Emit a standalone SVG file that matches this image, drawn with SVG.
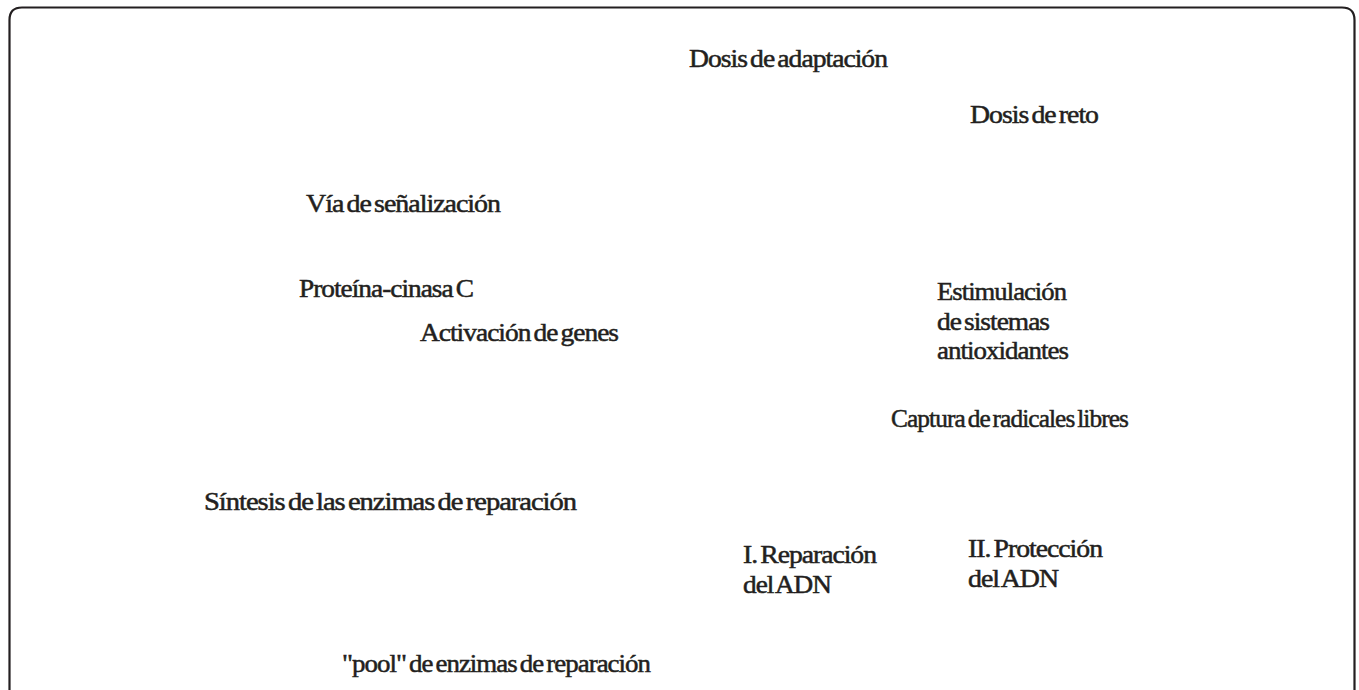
<svg xmlns="http://www.w3.org/2000/svg" width="1359" height="690" viewBox="0 0 1359 690">
<style>
.frame{fill:none;stroke:#231f20;stroke-width:2.2}
text{font-family:"Liberation Serif","Times New Roman",serif;font-size:25px;fill:#231f20;stroke:#231f20;stroke-width:0.5px;letter-spacing:-0.9px;word-spacing:-2.5px}
</style>
<rect width="1359" height="690" fill="#ffffff"/>
<path class="frame" d="M9.5,700 V20 Q9.5,7.5 22,7.5 H1342 Q1354.5,7.5 1354.5,20 V700"/>
<g id="connectors"></g>
<g id="n1"><text x="689" y="67" textLength="198" lengthAdjust="spacingAndGlyphs">Dosis de adaptación</text></g>
<g id="n2"><text x="970" y="123" textLength="128" lengthAdjust="spacingAndGlyphs">Dosis de reto</text></g>
<g id="n3"><text x="306" y="212" textLength="194" lengthAdjust="spacingAndGlyphs">Vía de señalización</text></g>
<g id="n4"><text x="299" y="297" textLength="174" lengthAdjust="spacingAndGlyphs">Proteína-cinasa C</text></g>
<g id="n5"><text x="420" y="341" textLength="198" lengthAdjust="spacingAndGlyphs">Activación de genes</text></g>
<g id="n6"><text x="937" y="300" textLength="129" lengthAdjust="spacingAndGlyphs">Estimulación</text><text x="937" y="330" textLength="112" lengthAdjust="spacingAndGlyphs">de sistemas</text><text x="937" y="359" textLength="131" lengthAdjust="spacingAndGlyphs">antioxidantes</text></g>
<g id="n7"><text x="891" y="427" textLength="237" lengthAdjust="spacingAndGlyphs">Captura de radicales libres</text></g>
<g id="n8"><text x="204" y="510" textLength="372" lengthAdjust="spacingAndGlyphs">Síntesis de las enzimas de reparación</text></g>
<g id="n9"><text x="743" y="563" textLength="133" lengthAdjust="spacingAndGlyphs">I. Reparación</text><text x="743" y="593" textLength="88" lengthAdjust="spacingAndGlyphs">del ADN</text></g>
<g id="n10"><text x="968" y="557" textLength="134" lengthAdjust="spacingAndGlyphs">II. Protección</text><text x="968" y="587" textLength="90" lengthAdjust="spacingAndGlyphs">del ADN</text></g>
<g id="n11"><text x="342" y="672" textLength="308" lengthAdjust="spacingAndGlyphs">"pool" de enzimas de reparación</text></g>
</svg>
